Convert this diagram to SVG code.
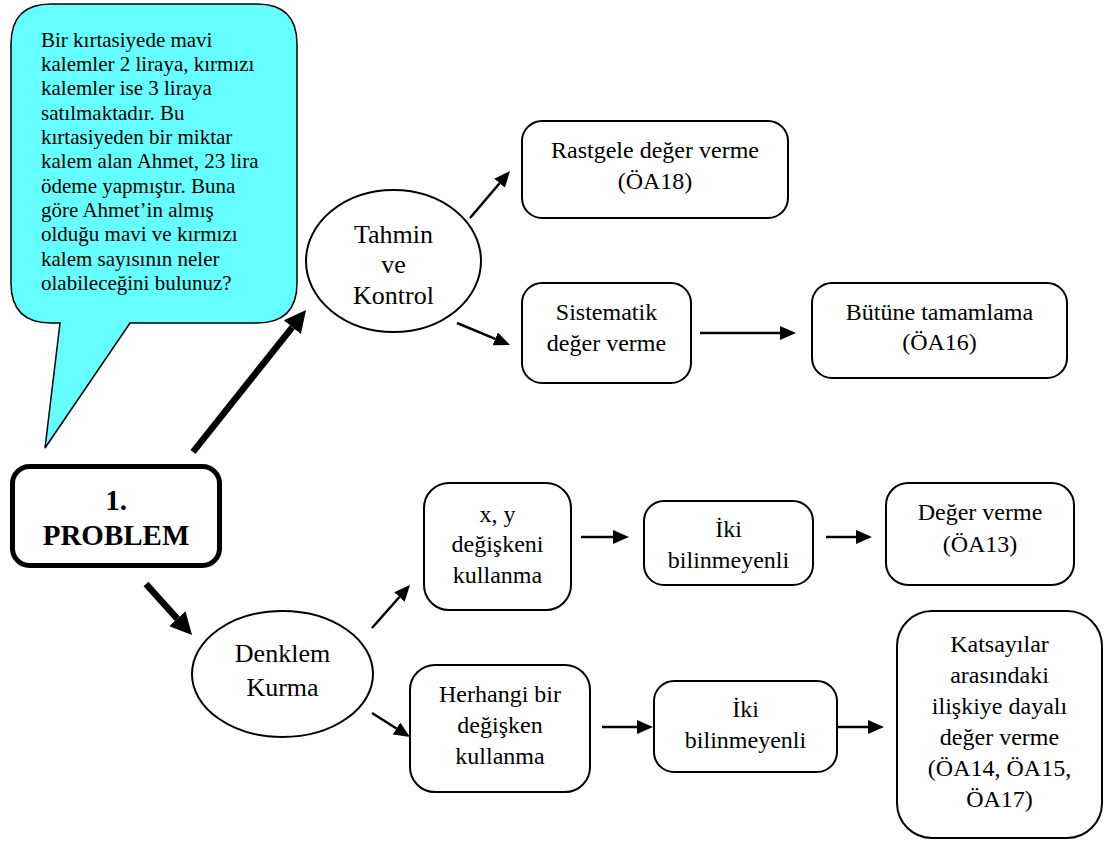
<svg xmlns="http://www.w3.org/2000/svg" width="1104" height="843" viewBox="0 0 1104 843" font-family="'Liberation Serif', 'Times New Roman', Times, serif">
<style>
text{fill:#000;font-family:'Liberation Serif','Times New Roman',Times,serif;}
.b{font-size:24px;text-anchor:middle;}
.e{font-size:26px;text-anchor:middle;}
.q{font-size:21px;}
.p{font-size:29px;font-weight:bold;text-anchor:middle;}
.box{fill:#fff;stroke:#000;stroke-width:2;}
.th{fill:none;stroke:#000;stroke-width:2.5;}
.tk{fill:none;stroke:#000;stroke-width:6.5;}
</style>
<defs>
<marker id="ah" markerUnits="userSpaceOnUse" viewBox="0 0 16 14" markerWidth="16" markerHeight="14" refX="0" refY="7" orient="auto"><path d="M0,0 L16,7 L0,14 z" fill="#000"/></marker>
<marker id="ahk" markerUnits="userSpaceOnUse" viewBox="0 0 22 22" markerWidth="22" markerHeight="22" refX="0" refY="11" orient="auto"><path d="M0,0 L22,11 L0,22 z" fill="#000"/></marker>
</defs>
<g id="bubble">
<path d="M51,4 H257 Q297,4 297,44 V283 Q297,323 257,323 H130 L45,448 L60,323 H51 Q11,323 11,283 V44 Q11,4 51,4 Z" fill="#66FFFF" stroke="#000" stroke-width="1.5"/>
<text class="q" x="41" y="46.7">Bir kırtasiyede mavi</text>
<text class="q" x="41" y="71">kalemler 2 liraya, kırmızı</text>
<text class="q" x="41" y="95.4">kalemler ise 3 liraya</text>
<text class="q" x="41" y="119.7">satılmaktadır. Bu</text>
<text class="q" x="41" y="144">kırtasiyeden bir miktar</text>
<text class="q" x="41" y="168.4">kalem alan Ahmet, 23 lira</text>
<text class="q" x="41" y="192.7">ödeme yapmıştır. Buna</text>
<text class="q" x="41" y="217">göre Ahmet’in almış</text>
<text class="q" x="41" y="241.4">olduğu mavi ve kırmızı</text>
<text class="q" x="41" y="265.7">kalem sayısının neler</text>
<text class="q" x="41" y="290">olabileceğini bulunuz?</text>
</g>
<g id="problem">
<rect x="12.5" y="466.5" width="207" height="99" rx="17" fill="#fff" stroke="#000" stroke-width="5"/>
<text class="p" x="116" y="510">1.</text>
<text class="p" x="116" y="545">PROBLEM</text>
</g>
<g id="tahmin">
<ellipse cx="393.5" cy="261" rx="87.5" ry="71" class="box"/>
<text class="e" x="393.5" y="243">Tahmin</text>
<text class="e" x="393.5" y="273">ve</text>
<text class="e" x="393.5" y="304">Kontrol</text>
</g>
<g id="rastgele">
<rect x="522" y="121" width="266" height="97" rx="20" class="box"/>
<text class="b" x="655" y="158">Rastgele değer verme</text>
<text class="b" x="655" y="189">(ÖA18)</text>
</g>
<g id="sistematik">
<rect x="522" y="283" width="169" height="100" rx="20" class="box"/>
<text class="b" x="606.5" y="320">Sistematik</text>
<text class="b" x="606.5" y="351">değer verme</text>
</g>
<g id="butune">
<rect x="812" y="283" width="255" height="95" rx="20" class="box"/>
<text class="b" x="939.5" y="320">Bütüne tamamlama</text>
<text class="b" x="939.5" y="350">(ÖA16)</text>
</g>
<g id="denklem">
<ellipse cx="282.5" cy="674" rx="90.5" ry="63" class="box"/>
<text class="e" x="282.5" y="662">Denklem</text>
<text class="e" x="282.5" y="696">Kurma</text>
</g>
<g id="xy">
<rect x="424" y="483" width="147" height="127" rx="25" class="box"/>
<text class="b" x="497.5" y="522">x, y</text>
<text class="b" x="497.5" y="552">değişkeni</text>
<text class="b" x="497.5" y="583">kullanma</text>
</g>
<g id="iki1">
<rect x="644" y="501" width="169" height="84" rx="20" class="box"/>
<text class="b" x="728.5" y="537">İki</text>
<text class="b" x="728.5" y="568">bilinmeyenli</text>
</g>
<g id="deger">
<rect x="886" y="483" width="188" height="102" rx="22" class="box"/>
<text class="b" x="980" y="520">Değer verme</text>
<text class="b" x="980" y="552">(ÖA13)</text>
</g>
<g id="herhangi">
<rect x="410" y="665" width="180" height="127" rx="25" class="box"/>
<text class="b" x="500" y="702">Herhangi bir</text>
<text class="b" x="500" y="733">değişken</text>
<text class="b" x="500" y="764">kullanma</text>
</g>
<g id="iki2">
<rect x="654" y="681" width="183" height="91" rx="20" class="box"/>
<text class="b" x="745.5" y="717">İki</text>
<text class="b" x="745.5" y="748">bilinmeyenli</text>
</g>
<g id="katsayilar">
<rect x="897" y="611" width="205" height="227" rx="35" class="box"/>
<text class="b" x="999.5" y="652">Katsayılar</text>
<text class="b" x="999.5" y="683">arasındaki</text>
<text class="b" x="999.5" y="714">ilişkiye dayalı</text>
<text class="b" x="999.5" y="745">değer verme</text>
<text class="b" x="999.5" y="776">(ÖA14, ÖA15,</text>
<text class="b" x="999.5" y="807">ÖA17)</text>
</g>
<g id="connectors">
<path class="tk" d="M193,452 L292.3,327.2" marker-end="url(#ahk)"/>
<path class="tk" d="M146,584 L177.3,618.7" marker-end="url(#ahk)"/>
<path class="th" d="M470,218 L499.6,183.2" marker-end="url(#ah)"/>
<path class="th" d="M457,323 L495.2,338.9" marker-end="url(#ah)"/>
<path class="th" d="M700,333 L780,333" marker-end="url(#ah)"/>
<path class="th" d="M372,628 L399.4,597" marker-end="url(#ah)"/>
<path class="th" d="M372,713 L396.5,728.5" marker-end="url(#ah)"/>
<path class="th" d="M581,537 L613,537" marker-end="url(#ah)"/>
<path class="th" d="M826,537 L856,537" marker-end="url(#ah)"/>
<path class="th" d="M602,727 L637,727" marker-end="url(#ah)"/>
<path class="th" d="M837,727 L868,727" marker-end="url(#ah)"/>
</g>
</svg>
